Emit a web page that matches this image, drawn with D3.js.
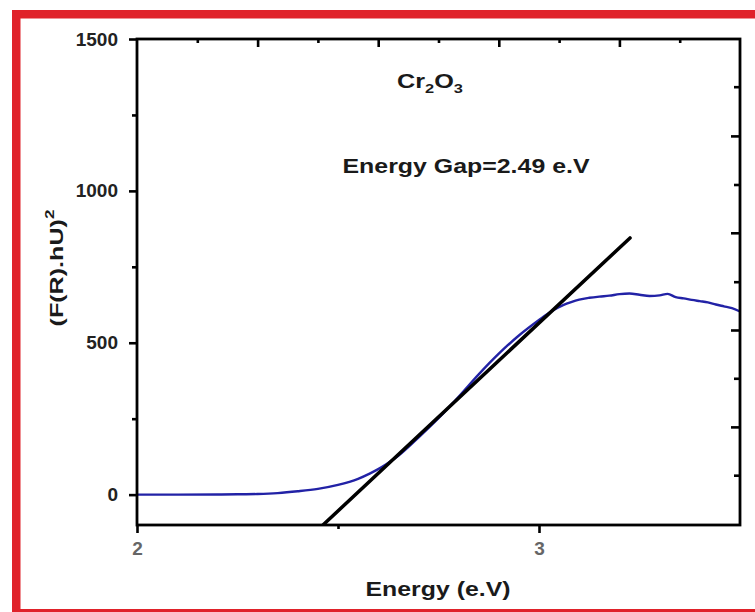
<!DOCTYPE html>
<html>
<head>
<meta charset="utf-8">
<script src="https://cdn.jsdelivr.net/npm/d3@7"></script>
<style>
  html, body { margin: 0; padding: 0; background: #fff; }
  svg { display: block; }
  text { font-family: "Liberation Sans", Arial, sans-serif; }
</style>
</head>
<body>
<svg id="chart" width="755" height="612"></svg>
<script>
// Kubelka-Munk Tauc plot of Cr2O3
const energy = [2.00, 2.10, 2.20, 2.25, 2.30, 2.35, 2.40, 2.45, 2.50, 2.55, 2.58, 2.60, 2.62, 2.65,
  2.70, 2.75, 2.80, 2.85, 2.90, 2.95, 3.00, 3.03, 3.06, 3.08, 3.10, 3.125, 3.15, 3.175, 3.20,
  3.225, 3.25, 3.275, 3.30, 3.32, 3.34, 3.36, 3.38, 3.40, 3.42, 3.44, 3.46, 3.48, 3.50];
const signal = [0, 0, 0.5, 1, 2, 5, 11, 19, 32, 52, 70, 84, 100, 128,
  188, 252, 322, 396, 464, 524, 575, 603, 624, 634, 642, 648, 652, 655, 660,
  662, 658, 654, 656, 661, 650, 646, 641, 637, 633, 626, 620, 614, 603];

// linear extrapolation of the absorption edge
const fitEnergy = [2.4626, 3.2264];
const fitSignal = [-100, 845];

// axis ticks
const yMajor = [0, 500, 1000, 1500];
const yMinor = [250, 750, 1250];
const xMajor = [2, 3];
const xMinor = [2.5];
const topMajor = [2.3, 2.6, 2.9, 3.2];
const topMinor = [2.15, 2.45, 2.75, 3.05, 3.35];
const rightMajor = [223, 542, 862, 1181];
const rightMinor = [64, 383, 701, 1021, 1343];

const svg = d3.select("#chart");
const W = 755, H = 612;
const pL = 137, pR = 740, pT = 39, pB = 525;

const x = d3.scaleLinear().domain([2, 3.5]).range([pL, pR]);
const y = d3.scaleLinear().domain([-100, 1500]).range([pB, pT]);

// red frame
const red = "#e0222a";
svg.append("rect").attr("x", 12).attr("y", 10).attr("width", W - 12).attr("height", 8.5).attr("fill", red);
svg.append("rect").attr("x", 12).attr("y", 10).attr("width", 8.5).attr("height", H - 10).attr("fill", red);
svg.append("rect").attr("x", 12).attr("y", 609).attr("width", W - 12).attr("height", 3).attr("fill", red);

// clip
svg.append("clipPath").attr("id", "plotClip")
  .append("rect").attr("x", pL).attr("y", pT).attr("width", pR - pL).attr("height", pB - pT);

const plot = svg.append("g").attr("clip-path", "url(#plotClip)");

const curveLine = d3.line().x(d => x(d[0])).y(d => y(d[1])).curve(d3.curveMonotoneX);
const straight = d3.line().x(d => x(d[0])).y(d => y(d[1]));

plot.append("path")
  .attr("d", curveLine(energy.map((e, i) => [e, signal[i]])))
  .attr("fill", "none")
  .attr("stroke", "#2222a6")
  .attr("stroke-width", 2.4)
  .attr("stroke-linejoin", "round");

plot.append("path")
  .attr("d", straight(fitEnergy.map((e, i) => [e, fitSignal[i]])))
  .attr("fill", "none")
  .attr("stroke", "#000")
  .attr("stroke-width", 3.5)
  .attr("stroke-linecap", "round");

// axes
function styleAxis(g, width) {
  g.select(".domain").remove();
  g.selectAll(".tick line").attr("stroke", "#000").attr("stroke-width", width);
}
const tickW = 2.6;

svg.append("g").attr("transform", `translate(${pL},0)`)
  .call(d3.axisLeft(y).tickValues(yMajor).tickSize(8).tickPadding(11).tickFormat(d3.format("d")))
  .call(g => styleAxis(g, tickW))
  .call(g => g.selectAll("text")
    .attr("font-family", "Liberation Sans, Arial, sans-serif")
    .attr("font-size", 19).attr("font-weight", "bold").attr("fill", "#222"));
svg.append("g").attr("transform", `translate(${pL},0)`)
  .call(d3.axisLeft(y).tickValues(yMinor).tickSize(5).tickFormat(""))
  .call(g => styleAxis(g, tickW));

svg.append("g").attr("transform", `translate(0,${pB})`)
  .call(d3.axisBottom(x).tickValues(xMajor).tickSize(8).tickPadding(9).tickFormat(d3.format("d")))
  .call(g => styleAxis(g, tickW))
  .call(g => g.selectAll("text")
    .attr("font-family", "Liberation Sans, Arial, sans-serif")
    .attr("font-size", 19).attr("font-weight", "bold").attr("fill", "#666"));
svg.append("g").attr("transform", `translate(0,${pB})`)
  .call(d3.axisBottom(x).tickValues(xMinor).tickSize(4).tickFormat(""))
  .call(g => styleAxis(g, tickW));

svg.append("g").attr("transform", `translate(0,${pT})`)
  .call(d3.axisBottom(x).tickValues(topMajor).tickSize(8).tickFormat(""))
  .call(g => styleAxis(g, tickW));
svg.append("g").attr("transform", `translate(0,${pT})`)
  .call(d3.axisBottom(x).tickValues(topMinor).tickSize(4).tickFormat(""))
  .call(g => styleAxis(g, tickW));

svg.append("g").attr("transform", `translate(${pR},0)`)
  .call(d3.axisLeft(y).tickValues(rightMajor).tickSize(9).tickFormat(""))
  .call(g => styleAxis(g, tickW));
svg.append("g").attr("transform", `translate(${pR},0)`)
  .call(d3.axisLeft(y).tickValues(rightMinor).tickSize(6).tickFormat(""))
  .call(g => styleAxis(g, tickW));

// frame
svg.append("rect")
  .attr("x", pL).attr("y", pT).attr("width", pR - pL).attr("height", pB - pT)
  .attr("fill", "none").attr("stroke", "#000").attr("stroke-width", 2.8);

// bold labels widened horizontally around an anchor point
function wideText(cx, cy, width, build, rotate) {
  const g = svg.append("g");
  const inner = g.append("g");
  const t = inner.append("text").attr("font-weight", "bold").attr("fill", "#1a1a1a")
    .attr("text-anchor", "middle");
  build(t);
  const w = t.node().getBBox().width;
  const s = width / w;
  inner.attr("transform", `scale(${s},1)`);
  g.attr("transform", `translate(${cx},${cy})` + (rotate ? ` rotate(${rotate})` : ""));
  return g;
}

wideText(430, 88, 66, t => {
  t.attr("font-size", 20);
  t.append("tspan").text("Cr");
  t.append("tspan").attr("font-size", 13).attr("dy", 5).text("2");
  t.append("tspan").attr("dy", -5).text("O");
  t.append("tspan").attr("font-size", 13).attr("dy", 5).text("3");
});

wideText(466, 172.5, 248, t => {
  t.attr("font-size", 20).text("Energy Gap=2.49 e.V");
});

wideText(438, 596, 145, t => {
  t.attr("font-size", 20).text("Energy (e.V)");
});

wideText(63, 268, 117, t => {
  t.attr("font-size", 19);
  t.append("tspan").text("(F(R).hU)");
  t.append("tspan").attr("font-size", 13).attr("dy", -9).text("2");
}, -90);
</script>
</body>
</html>
